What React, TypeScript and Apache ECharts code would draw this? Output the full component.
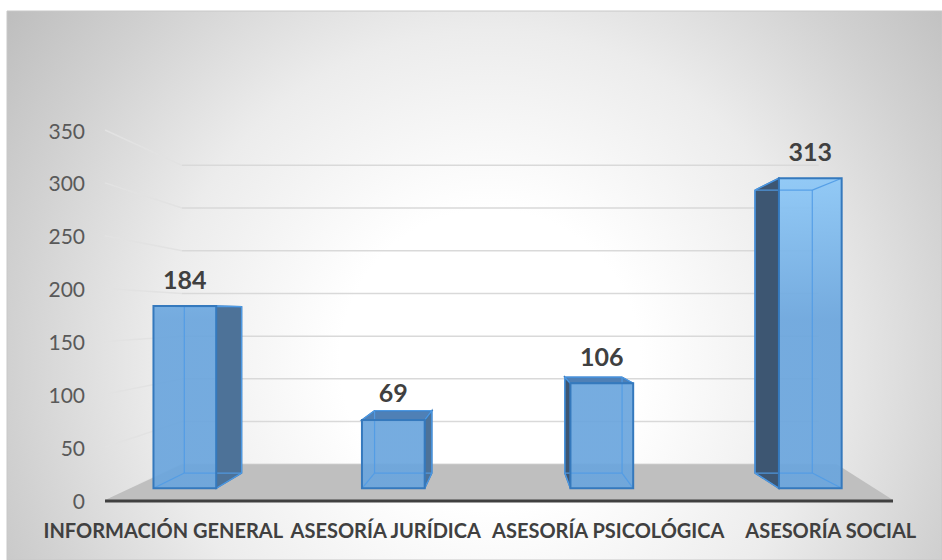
import React, { useEffect, useRef } from "react";
import * as echarts from "echarts";

const categories = ["INFORMACIÓN GENERAL", "ASESORÍA JURÍDICA", "ASESORÍA PSICOLÓGICA", "ASESORÍA SOCIAL"];
const values = [184, 69, 106, 313];
const yTicks = [0, 50, 100, 150, 200, 250, 300, 350];

// perspective layout
const VP = [506, 314];
const K_FRONT = 0.937;
const K_BACK = 0.855;
const K_WALL = 0.808;
const FLOOR_X0 = 105;
const FLOOR_X1 = 893;
const BAR_RATIO = 0.301;

function proj(p: number[], k: number): number[] {
  return [VP[0] + (p[0] - VP[0]) * k, VP[1] + (p[1] - VP[1]) * k];
}

const FONT = "Lato, 'Open Sans', sans-serif";

export default function App() {
  const ref = useRef<HTMLDivElement>(null);
  useEffect(() => {
    if (!ref.current) return;
    const chart = echarts.init(ref.current, null, { renderer: "svg" });
    const frontGrad = {
      type: "linear",
      x: 0,
      y: 175,
      x2: 0,
      y2: 320,
      global: true,
      colorStops: [
        { offset: 0, color: "rgba(140,200,248,0.92)" },
        { offset: 1, color: "rgba(106,165,221,0.92)" },
      ],
    };
    const option: any = {
      animation: false,
      backgroundColor: "#ffffff",
      graphic: {
        elements: [
          {
            type: "rect",
            z: -10,
            shape: { x: 7, y: 11, width: 935, height: 549 },
            style: {
              fill: {
                type: "radial",
                x: 490,
                y: 360,
                r: 600,
                global: true,
                colorStops: [
                  { offset: 0, color: "#ffffff" },
                  { offset: 0.25, color: "#ffffff" },
                  { offset: 0.55, color: "#ececec" },
                  { offset: 0.8, color: "#d1d1d1" },
                  { offset: 1, color: "#bdbdbd" },
                ],
              },
              stroke: "#c8c8c8",
              lineWidth: 1,
            },
          },
        ],
      },
      grid: { left: 52, width: 893, top: 130, bottom: 60 },
      xAxis: {
        type: "category",
        data: categories,
        axisLine: { show: false },
        axisTick: { show: false },
        axisLabel: {
          interval: 0,
          margin: 20,
          color: "#404040",
          fontFamily: FONT,
          fontWeight: "bold",
          fontSize: 20,
        },
      },
      yAxis: {
        type: "value",
        min: 0,
        max: 350,
        interval: 50,
        offset: -53,
        axisLine: { show: false },
        axisTick: { show: false },
        splitLine: { show: false },
        axisLabel: { margin: 20, color: "#595959", fontFamily: FONT, fontSize: 21 },
      },
      series: [
        {
          type: "custom",
          z: 1,
          silent: true,
          clip: false,
          data: yTicks.map((v) => [0, v]),
          renderItem: (params: any, api: any) => {
            const y = api.coord([0, api.value(1)])[1];
            const a = [FLOOR_X0, y];
            const b = proj(a, K_WALL);
            const c = proj([FLOOR_X1, y], K_WALL);
            return {
              type: "group",
              children: [
                { type: "line", shape: { x1: a[0], y1: a[1], x2: b[0], y2: b[1] }, style: { stroke: "#e2e2e2", lineWidth: 1.5 } },
                { type: "line", shape: { x1: b[0], y1: b[1], x2: c[0], y2: c[1] }, style: { stroke: "#d9d9d9", lineWidth: 1.5 } },
              ],
            };
          },
        },
        {
          type: "custom",
          z: 2,
          silent: true,
          clip: false,
          data: [[0, 0]],
          renderItem: (params: any, api: any) => {
            const y = api.coord([0, 0])[1];
            const fl = [FLOOR_X0, y];
            const fr = [FLOOR_X1, y];
            const bl = proj(fl, K_WALL);
            const br = proj(fr, K_WALL);
            br[0] += 18;
            return {
              type: "group",
              children: [
                { type: "polygon", shape: { points: [fl, fr, br, bl] }, style: { fill: "#bfbfbf" } },
                { type: "line", shape: { x1: fl[0], y1: y + 1, x2: fr[0], y2: y + 1 }, style: { stroke: "#404040", lineWidth: 3 } },
              ],
            };
          },
        },
        {
          type: "custom",
          z: 3,
          silent: true,
          clip: false,
          data: values.map((v, i) => [i, v]),
          renderItem: (params: any, api: any) => {
            const i = api.value(0);
            const v = api.value(1);
            const top = api.coord([i, v]);
            const base = api.coord([i, 0]);
            const w = api.size([1, 0])[0] * BAR_RATIO;
            const xl = top[0] - w / 2;
            const xr = top[0] + w / 2;
            const fTL = proj([xl, top[1]], K_FRONT);
            const fTR = proj([xr, top[1]], K_FRONT);
            const fBR = proj([xr, base[1]], K_FRONT);
            const fBL = proj([xl, base[1]], K_FRONT);
            const bTL = proj([xl, top[1]], K_BACK);
            const bTR = proj([xr, top[1]], K_BACK);
            const bBR = proj([xr, base[1]], K_BACK);
            const bBL = proj([xl, base[1]], K_BACK);
            const border = "#3579bd";
            const inner = "rgba(80,155,230,0.9)";
            const children: any[] = [];
            const rightSide = top[0] < VP[0];
            if (rightSide) {
              children.push({ type: "polygon", shape: { points: [fTR, bTR, bBR, fBR] }, style: { fill: "#4d7298", stroke: border, lineWidth: 1.5 } });
            } else {
              children.push({ type: "polygon", shape: { points: [fTL, bTL, bBL, fBL] }, style: { fill: "#3d5672", stroke: border, lineWidth: 1.5 } });
            }
            if (top[1] > VP[1]) {
              children.push({ type: "polygon", shape: { points: [fTL, fTR, bTR, bTL] }, style: { fill: "#4f80b6", stroke: border, lineWidth: 1.5 } });
            }
            children.push({ type: "polygon", shape: { points: [fTL, fTR, fBR, fBL] }, style: { fill: frontGrad } });
            const seg = (p: number[], q: number[]) => ({ type: "line", shape: { x1: p[0], y1: p[1], x2: q[0], y2: q[1] }, style: { stroke: inner, lineWidth: 1.2 } });
            children.push(seg(bTL, bTR), seg(bTR, bBR), seg(bBR, bBL), seg(bBL, bTL));
            children.push(seg(fBL, bBL), seg(fBR, bBR), seg(fTL, bTL), seg(fTR, bTR));
            children.push({ type: "polygon", shape: { points: [fTL, fTR, fBR, fBL] }, style: { fill: "none", stroke: border, lineWidth: 2 } });
            children.push({
              type: "text",
              style: {
                text: String(v),
                x: (fTL[0] + fTR[0]) / 2,
                y: fTL[1] - 15,
                align: "center",
                verticalAlign: "bottom",
                fill: "#404040",
                fontFamily: FONT,
                fontWeight: "bold",
                fontSize: 25,
              },
            });
            return { type: "group", children };
          },
        },
      ],
    };
    chart.setOption(option);
    return () => chart.dispose();
  }, []);
  return <div ref={ref} style={{ position: "fixed", left: 0, top: 0, width: 942, height: 560 }} />;
}
